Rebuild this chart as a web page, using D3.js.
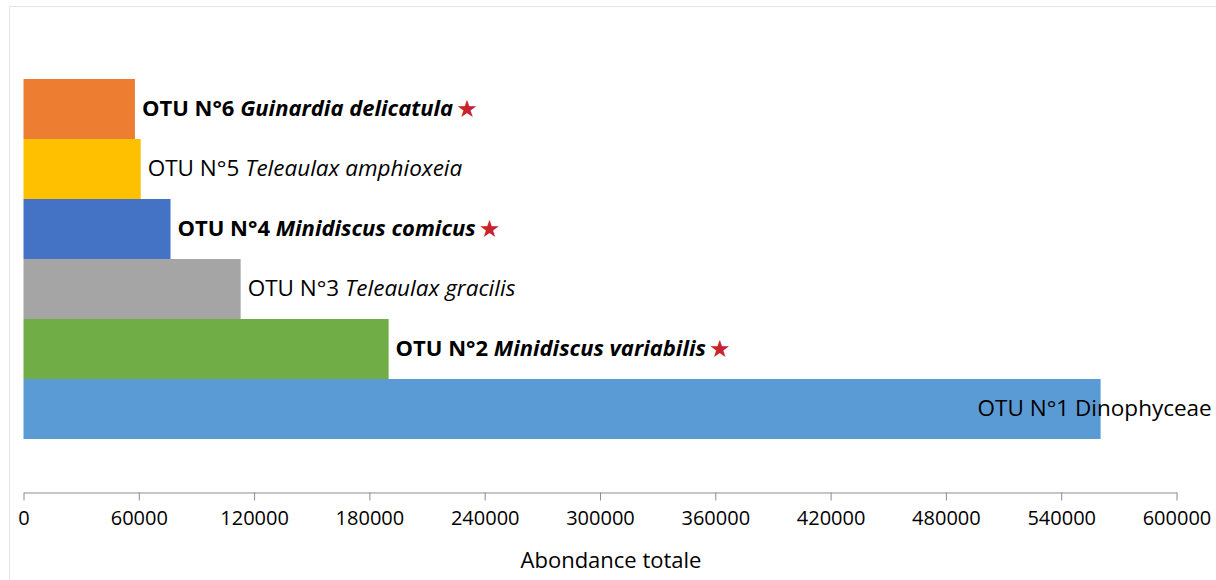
<!DOCTYPE html>
<html>
<head>
<meta charset="utf-8">
<script src="https://cdn.jsdelivr.net/npm/d3@7"></script>
<style>
  body { margin: 0; background: #fff; }
  svg text { font-family: "Open Sans", Lato, sans-serif; fill: #000; }
</style>
</head>
<body>
<div id="box"></div>
<script>
// OTU abundance, bottom bar first
var otuNames = ["OTU N°1", "OTU N°2", "OTU N°3", "OTU N°4", "OTU N°5", "OTU N°6"];
var taxa = ["Dinophyceae", "Minidiscus variabilis", "Teleaulax gracilis", "Minidiscus comicus", "Teleaulax amphioxeia", "Guinardia delicatula"];
var abundance = [560500, 190000, 113000, 76500, 61000, 58000];
var italicTaxon = [false, true, true, true, true, true];
var starred = [false, true, false, true, false, true];
var barColors = ["#5b9bd5", "#70ad47", "#a5a5a5", "#4472c4", "#ffc000", "#ed7d31"];
var tickValues = [0, 60000, 120000, 180000, 240000, 300000, 360000, 420000, 480000, 540000, 600000];

var width = 1216;
var height = 580;

var svg = d3.select("#box").append("svg")
  .attr("width", width)
  .attr("height", height);

// faint frame of the chart area
svg.append("line").attr("x1", 9.5).attr("x2", 9.5).attr("y1", 6.5).attr("y2", height)
  .attr("stroke", "#e4e4e4");
svg.append("line").attr("x1", 9.5).attr("x2", width).attr("y1", 6.5).attr("y2", 6.5)
  .attr("stroke", "#e4e4e4");

var x = d3.scaleLinear().domain([0, 600000]).range([23.5, 1176.5]);
var y = d3.scaleBand().domain(d3.range(abundance.length).reverse()).range([79, 439]).padding(0);

var rows = d3.range(abundance.length);

svg.selectAll("rect.bar")
  .data(rows)
  .enter()
  .append("rect")
  .attr("class", "bar")
  .attr("x", x(0))
  .attr("y", function(i) { return y(i); })
  .attr("width", function(i) { return x(abundance[i]) - x(0); })
  .attr("height", y.bandwidth())
  .attr("fill", function(i) { return barColors[i]; });

// labels: just past the bar end, the largest one sits over its end
var label = svg.selectAll("text.lbl")
  .data(rows)
  .enter()
  .append("text")
  .attr("class", "lbl")
  .attr("x", function(i) { return i == 0 ? x(abundance[i]) - 123 : x(abundance[i]) + 7; })
  .attr("y", function(i) { return y(i) + y.bandwidth() / 2 + 1; })
  .attr("dominant-baseline", "middle")
  .style("font-size", function(i) { return starred[i] ? "22px" : "22.5px"; })
  .style("font-weight", function(i) { return starred[i] ? "bold" : "normal"; });

label.append("tspan").text(function(i) { return otuNames[i] + " "; });
label.append("tspan")
  .style("font-style", function(i) { return italicTaxon[i] ? "italic" : "normal"; })
  .text(function(i) { return taxa[i]; });
label.filter(function(i) { return starred[i]; })
  .append("tspan")
  .attr("dx", 3)
  .style("fill", "#c8222c")
  .style("font-weight", "normal")
  .style("font-size", "24px")
  .style("font-family", "'DejaVu Sans', sans-serif")
  .text("★");

// x axis
var axis = svg.append("g")
  .attr("transform", "translate(0,492.5)")
  .call(d3.axisBottom(x).tickValues(tickValues).tickSize(8).tickSizeOuter(0).tickFormat(d3.format("d")));
axis.select(".domain").attr("stroke", "#8c8c8c");
axis.selectAll(".tick line").attr("stroke", "#8c8c8c");
axis.selectAll(".tick text")
  .attr("y", 18)
  .style("font-size", "20px")
  .style("font-family", "'Open Sans', Lato, sans-serif")
  .attr("fill", "#000");

svg.append("text")
  .attr("x", 611)
  .attr("y", 568)
  .attr("text-anchor", "middle")
  .style("font-size", "22px")
  .text("Abondance totale");
</script>
</body>
</html>
